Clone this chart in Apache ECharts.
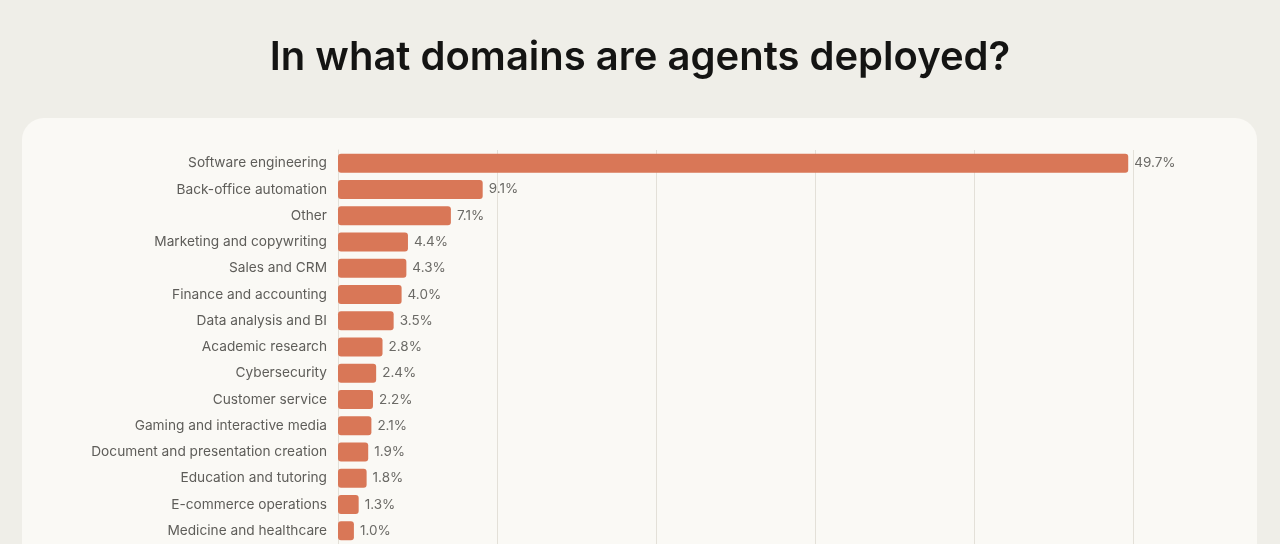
<!DOCTYPE html>
<html>
<head>
<meta charset="utf-8">
<script src="https://cdn.jsdelivr.net/npm/echarts@6/dist/echarts.min.js"></script>
<style>
  html, body { margin: 0; padding: 0; background: #EFEEE8; }
  #chart { width: 1280px; height: 544px; }
</style>
</head>
<body>
<div id="chart"></div>
<script>
// domains, top to bottom
const domains = [
  'Software engineering',
  'Back-office automation',
  'Other',
  'Marketing and copywriting',
  'Sales and CRM',
  'Finance and accounting',
  'Data analysis and BI',
  'Academic research',
  'Cybersecurity',
  'Customer service',
  'Gaming and interactive media',
  'Document and presentation creation',
  'Education and tutoring',
  'E-commerce operations',
  'Medicine and healthcare'
]
const shares = [49.7, 9.1, 7.1, 4.4, 4.3, 4.0, 3.5, 2.8, 2.4, 2.2, 2.1, 1.9, 1.8, 1.3, 1.0]

const chart = echarts.init(document.getElementById('chart'))

chart.setOption({
  backgroundColor: '#EFEEE8',
  animation: false,
  title: {
    text: 'In what domains are agents deployed?',
    left: 'center',
    top: 33,
    textStyle: { fontFamily: 'Inter', fontSize: 40, fontWeight: 600, color: '#141413' }
  },
  // card panel behind the plot
  graphic: [{
    type: 'rect',
    z: -10,
    shape: { x: 22, y: 118, width: 1235, height: 460, r: 22 },
    style: { fill: '#FAF9F5' }
  }],
  grid: { left: 338, right: 147, top: 150, bottom: -1, containLabel: false },
  xAxis: {
    type: 'value',
    min: 0,
    max: 50,
    interval: 10,
    axisLabel: { show: false },
    axisLine: { show: false },
    axisTick: { show: false },
    splitLine: { lineStyle: { color: '#E3E0D8', width: 1 } }
  },
  yAxis: {
    type: 'category',
    inverse: true,
    data: domains,
    axisLine: { show: true, lineStyle: { color: '#E3E0D8' } },
    axisTick: { show: false },
    axisLabel: { margin: 11, fontFamily: 'Inter', fontSize: 13.7, color: '#5E5D59' }
  },
  series: [{
    type: 'bar',
    data: shares,
    barWidth: 19,
    itemStyle: { color: '#D97757', borderRadius: 3 },
    label: {
      show: true,
      position: 'right',
      distance: 6,
      fontFamily: 'Inter',
      fontSize: 13.5,
      color: '#6B6A66',
      formatter: p => p.value.toFixed(1) + '%'
    }
  }]
})
</script>
</body>
</html>
